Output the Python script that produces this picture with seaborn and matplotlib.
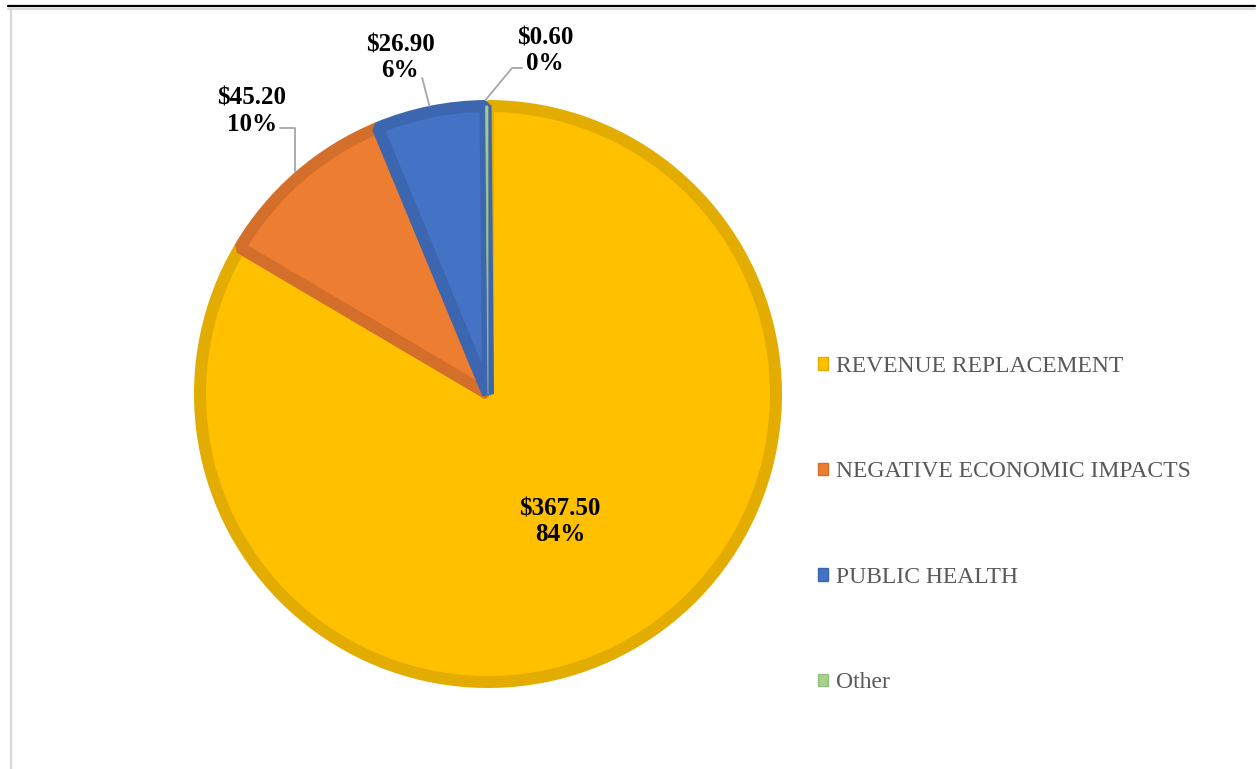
import matplotlib
matplotlib.use('Agg')
import matplotlib.pyplot as plt
import seaborn as sns
import numpy as np
from matplotlib.lines import Line2D

# 数据
categories = ['REVENUE REPLACEMENT', 'NEGATIVE ECONOMIC IMPACTS', 'PUBLIC HEALTH', 'Other']
amounts = [367.5, 45.2, 26.9, 0.6]
percents = [84, 10, 6, 0]
fill_colors = ['#FFC000', '#ED7D31', '#4472C4', '#A9D18E']
edge_colors = ['#E3AC00', '#D46F2B', '#3D66B0', '#97BD7E']

# 标签位置（数据坐标，饼图半径为1）
label_pos = [(0.245, -0.435), (-0.803, 0.962), (-0.299, 1.143), (0.194, 1.168)]

sns.set_theme(style='white')
plt.rcParams['font.family'] = ['Liberation Serif', 'DejaVu Serif']

W, H, dpi = 1257, 769, 100
cx, cy, R = 488, 394, 294  # 饼图中心与半径（像素）
edge_px = 12  # 扇形描边宽度（像素）

fig = plt.figure(figsize=(W / dpi, H / dpi), dpi=dpi)
ax = fig.add_axes([0, 0, 1, 1])

wedges, _ = ax.pie(amounts, colors=fill_colors, startangle=90, counterclock=False,
                   radius=1 - edge_px / 2 / R, center=(0, 0), frame=True,
                   wedgeprops=dict(linewidth=edge_px * 72 / dpi, joinstyle='bevel'))
for w, ec in zip(wedges, edge_colors):
    w.set_edgecolor(ec)
wedges[3].set_linewidth(0.6)
ax.set_xlim(-cx / R, (W - cx) / R)
ax.set_ylim((cy - H) / R, cy / R)
ax.axis('off')

for i, (amt, pct) in enumerate(zip(amounts, percents)):
    txt = f'${amt:.2f}\n{pct}%'
    lx, ly = label_pos[i]
    ax.text(lx, ly, txt, ha='center', va='center', fontsize=18, fontweight='bold',
            color='black', linespacing=1.17)

# 引导线
def edge_point(w):
    mid = np.deg2rad((w.theta1 + w.theta2) / 2)
    return np.cos(mid), np.sin(mid)

lc = '#A6A6A6'
ex, ey = edge_point(wedges[1])
ax.plot([-0.707, ex, ex], [0.905, 0.905, ey], color=lc, lw=1.3)
ex, ey = edge_point(wedges[2])
ax.plot([-0.224, ex], [1.075, ey], color=lc, lw=1.3)
ex, ey = np.cos(np.deg2rad(wedges[3].theta2)), np.sin(np.deg2rad(wedges[3].theta2))
ax.plot([0.116, 0.082, ex], [1.109, 1.109, ey], color=lc, lw=1.3)

# 图例
handles = [plt.Rectangle((0, 0), 1, 1, facecolor=f, edgecolor=e, linewidth=1)
           for f, e in zip(fill_colors, edge_colors)]
leg = fig.legend(handles, categories, loc='center left',
                 bbox_to_anchor=(818 / W, 1 - 524.5 / H), frameon=False,
                 fontsize=17, labelcolor='#595959', handlelength=0.44,
                 handleheight=0.44, handletextpad=0.33, labelspacing=3.58,
                 borderpad=0, borderaxespad=0)

# 边框线
fig.add_artist(Line2D([8 / W, 1255 / W], [1 - 6 / H, 1 - 6 / H], color='black', lw=1.6))
fig.add_artist(Line2D([8 / W, 1255 / W], [1 - 8.5 / H, 1 - 8.5 / H], color='#D9D9D9', lw=1.4))
fig.add_artist(Line2D([11 / W, 11 / W], [0, 1 - 8 / H], color='#D9D9D9', lw=1.6))

plt.savefig('out.png', dpi=dpi)
plt.close()
